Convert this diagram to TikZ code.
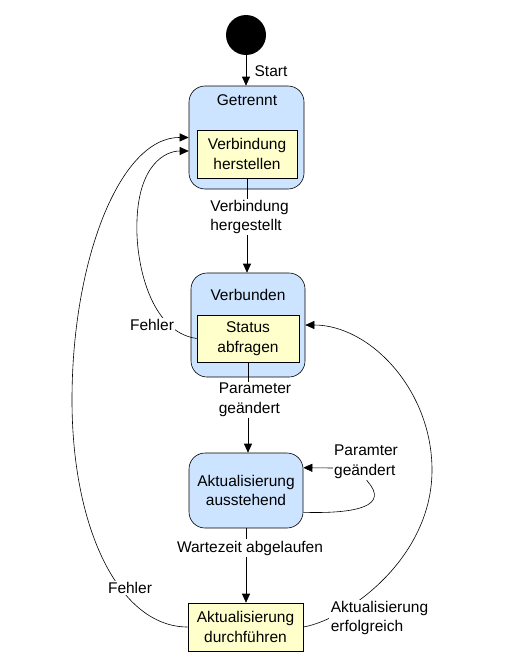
\documentclass[tikz,border=0pt]{standalone}
\usepackage{fontspec}
\setmainfont{Liberation Sans}
\usetikzlibrary{arrows.meta,calc}
\definecolor{stateblue}{RGB}{204,228,255}
\definecolor{taskyellow}{RGB}{255,255,204}
\tikzset{
    state/.style={draw, rounded corners=16pt, fill=stateblue, inner sep=0pt},
    task/.style={draw, fill=taskyellow, align=center, inner sep=0pt},
    lbl/.style={fill=white, inner sep=1.5pt, align=left},
    tri/.tip={Triangle[length=9pt,width=8pt]}}

\begin{document}
\begin{tikzpicture}[x=1pt,y=-1pt,font=\fontsize{15.5}{19.5}\selectfont,line width=0.6pt]
\useasboundingbox (0,0) rectangle (506,669);
\coordinate (S) at (246,35) ;
\coordinate (G) at (246.5,137.5) ;
\coordinate (G2) at (247,154) ;
\coordinate (V) at (248,325) ;
\coordinate (V2) at (248,338.5) ;
\coordinate (A) at (246,490.5) ;
\coordinate (D) at (245.5,627) ;

\node[circle, fill=black, minimum size=40pt, inner sep=0pt] (start) at (S) {};

\node[state, minimum width=115pt, minimum height=103pt] (getrennt) at (G) {};
\node (getrenntT) at (247,100) {Getrennt};
\node[task, minimum width=100pt, minimum height=48pt] (herstellen) at (G2) {Verbindung\\herstellen};

\node[state, minimum width=114pt, minimum height=104pt] (verbunden) at (V) {};
\node (verbundenT) at (248,295) {Verbunden};
\node[task, minimum width=102pt, minimum height=47pt] (abfragen) at (V2) {Status\\abfragen};

\node[state, minimum width=114pt, minimum height=75pt, align=center] (ausstehend) at (A) {Aktualisierung\\ausstehend};
\node[task, minimum width=115pt, minimum height=48pt] (durchfuehren) at (D) {Aktualisierung\\durchf\"uhren};

%straight transitions
\draw [-tri](start.south)--(start.south |- getrennt.north);
\node[anchor=west] (startL) at (251,71) {Start};
\draw [-tri](herstellen.south)--(herstellen.south |- verbunden.north);
\node[lbl] (hergestelltL) at (249.5,217) {Verbindung\\hergestellt};
\draw [-tri](abfragen.south)--(abfragen.south |- ausstehend.north);
\node[lbl, anchor=west] (geaendertL) at (217,400) {Parameter\\ge\"andert};
\draw [-tri](ausstehend.south)--(ausstehend.south |- durchfuehren.north);
\node[lbl] (abgelaufenL) at (250,548) {Wartezeit abgelaufen};

%self loop
\draw [-tri]([yshift=16pt]ausstehend.south east) .. controls (360,514) and (388,505) .. (368,482)
  .. controls (360,470) .. (333,468) -- ([yshift=-15pt]ausstehend.north east);
\node[lbl] (paramterL) at (366,462) {Paramter\\ge\"andert};

%back to Verbunden
\draw [-tri](durchfuehren.east) .. controls (345,620) and (432,560) .. (432,470)
  .. controls (432,390) and (370,325) .. (verbunden.east);
\node[lbl] (erfolgreichL) at (379.5,618) {Aktualisierung\\erfolgreich};

%errors
\draw [-tri](durchfuehren.west) .. controls (120,627) and (72,530) .. (72,400)
  .. controls (72,260) and (120,137) .. (getrennt.west);
\node[lbl] (fehlerA) at (130,588) {Fehler};
\draw [-tri](abfragen.west) .. controls (150,332) and (135,262) .. (137,220)
  .. controls (139,165) and (165,151) .. ([yshift=-13.5pt]getrennt.west);
\node[lbl] (fehlerB) at (152,325) {Fehler};
\end{tikzpicture}
\end{document}
